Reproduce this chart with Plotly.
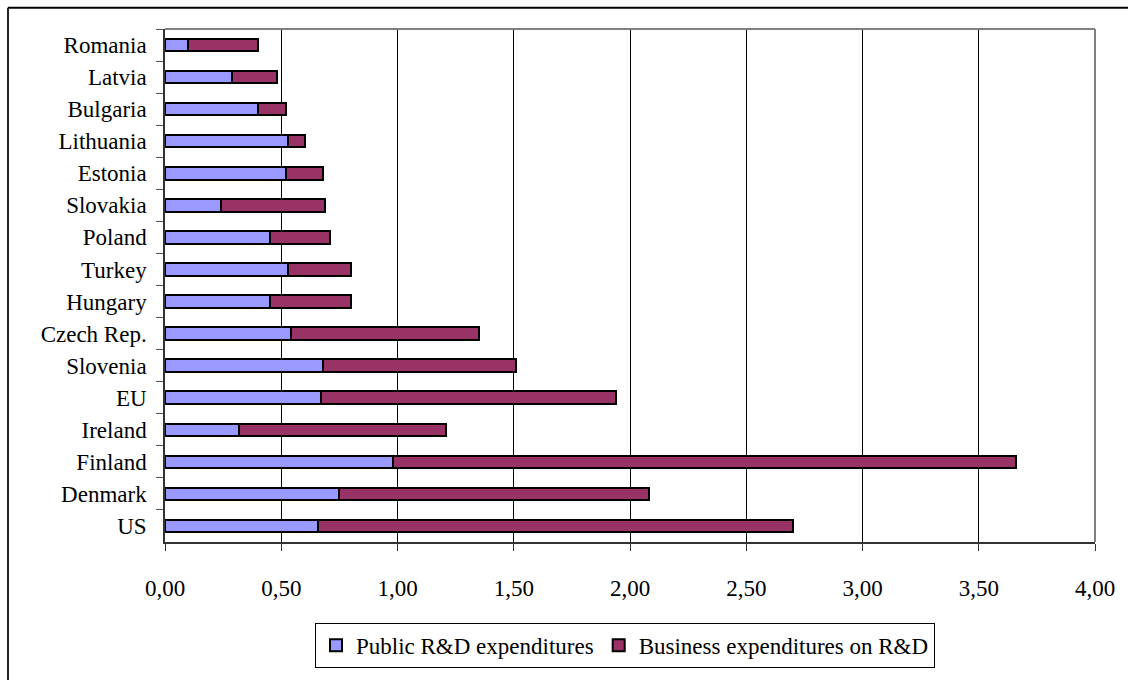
import plotly.graph_objects as go

# Countries, listed top to bottom as shown on the chart
countries = ["Romania", "Latvia", "Bulgaria", "Lithuania", "Estonia", "Slovakia",
             "Poland", "Turkey", "Hungary", "Czech Rep.", "Slovenia", "EU",
             "Ireland", "Finland", "Denmark", "US"]

# R&D expenditures (% of GDP)
public_rd = [0.10, 0.29, 0.40, 0.53, 0.52, 0.24, 0.45, 0.53, 0.45, 0.54,
             0.68, 0.67, 0.32, 0.98, 0.75, 0.66]
business_rd = [0.30, 0.19, 0.12, 0.07, 0.16, 0.45, 0.26, 0.27, 0.35, 0.81,
               0.83, 1.27, 0.89, 2.68, 1.33, 2.04]

x_ticks = [0, 0.5, 1.0, 1.5, 2.0, 2.5, 3.0, 3.5, 4.0]

FONT = "Liberation Serif, Times New Roman, serif"

fig = go.Figure()
fig.add_trace(go.Bar(
    y=countries, x=public_rd, orientation="h",
    name="Public R&D expenditures",
    marker=dict(color="#9999FF", line=dict(color="#000000", width=2)),
))
fig.add_trace(go.Bar(
    y=countries, x=business_rd, orientation="h",
    name="Business expenditures on R&D",
    marker=dict(color="#993366", line=dict(color="#000000", width=2)),
))

# plot area geometry in pixels (for placing the outer frame and legend)
L, R, T, B = 165, 33, 29, 130
W, H = 1128 - L - R, 680 - T - B

def px_x(p):
    return (p - L) / W

def px_y(p):
    return (680 - B - p) / H

shapes = [
    # grey frame on top and right of the plotting area
    dict(type="line", xref="paper", yref="paper", x0=0, x1=1, y0=1, y1=1,
         line=dict(color="#808080", width=2)),
    dict(type="line", xref="paper", yref="paper", x0=1, x1=1, y0=0, y1=1,
         line=dict(color="#808080", width=2)),
    # outer chart border (top and left edges)
    dict(type="line", xref="paper", yref="paper", x0=px_x(8), x1=1.2,
         y0=px_y(7.5), y1=px_y(7.5), line=dict(color="#000000", width=2)),
    dict(type="line", xref="paper", yref="paper", x0=px_x(8), x1=px_x(8),
         y0=px_y(7.5), y1=px_y(720), line=dict(color="#222222", width=2)),
]

fig.update_layout(
    barmode="stack",
    bargap=0.61,
    width=1128, height=680,
    margin=dict(l=L, r=R, t=T, b=B, pad=0),
    paper_bgcolor="white", plot_bgcolor="white",
    separators=", ",
    font=dict(family=FONT, size=23, color="#000000"),
    shapes=shapes,
    showlegend=True,
    legend=dict(
        orientation="h",
        x=px_x(315), y=px_y(632), xanchor="left", yanchor="top",
        bordercolor="#000000", borderwidth=1,
        font=dict(family=FONT, size=23),
        traceorder="normal",
        itemwidth=30,
    ),
    xaxis=dict(
        range=[0, 4], tickvals=x_ticks, tickformat=".2f",
        showgrid=True, gridcolor="#000000", gridwidth=1,
        showline=True, linecolor="#333333", linewidth=1.5,
        ticks="outside", ticklen=7, tickcolor="#333333",
        ticklabelstandoff=18,
        zeroline=False, fixedrange=True,
    ),
    yaxis=dict(
        categoryorder="array", categoryarray=countries,
        autorange="reversed",
        showgrid=False,
        showline=True, linecolor="#333333", linewidth=1.5,
        ticks="outside", ticklen=7, tickcolor="#555555",
        tickson="boundaries",
        ticklabelstandoff=12,
        zeroline=False, fixedrange=True,
    ),
)

fig.write_html("out.html")
